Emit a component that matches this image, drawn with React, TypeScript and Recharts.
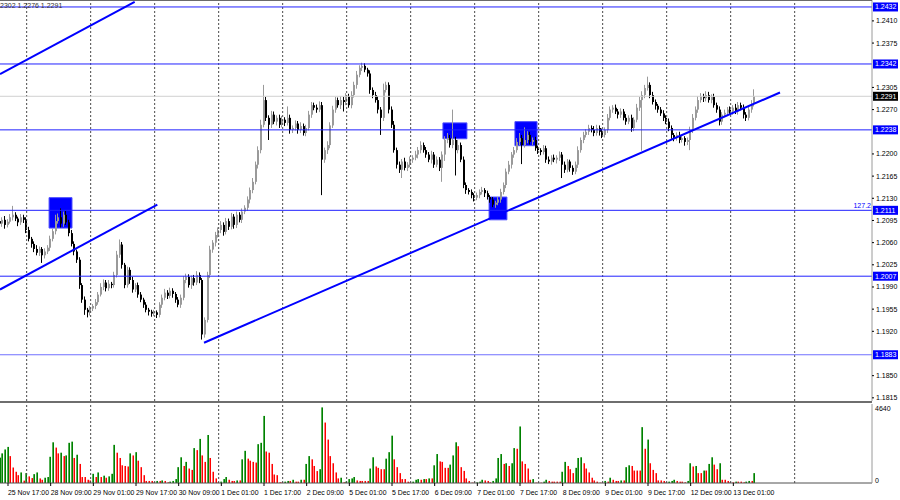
import { ComposedChart, Bar, XAxis, YAxis, ReferenceLine, ReferenceArea } from 'recharts'

// H1 closes, price * 10000
const closes = [
  12090, 12096, 12088, 12093, 12100, 12104, 12098, 12092, 12100, 12096,
  12080, 12066, 12058, 12050, 12044, 12050, 12040, 12046, 12052, 12066,
  12078, 12094, 12100, 12090, 12104, 12092, 12075, 12058, 12046, 12033,
  11993, 11970, 11954, 11950, 11956, 11960, 11966, 11978, 11990, 11997,
  11988, 11995, 11993, 12009, 12041, 12057, 12025, 11993, 12017, 12001,
  11986, 11993, 11978, 11970, 11962, 11954, 11951, 11948, 11950, 11946,
  11962, 11973, 11981, 11976, 11984, 11979, 11970, 11962, 11973, 12001,
  12006, 11993, 12004, 11997, 12009, 12001, 11915, 11938, 12009, 12049,
  12060, 12072, 12080, 12088, 12077, 12094, 12085, 12101, 12088, 12104,
  12096, 12109, 12115, 12128, 12143, 12156, 12183, 12206, 12246, 12285,
  12257, 12246, 12262, 12251, 12257, 12246, 12254, 12249, 12257, 12238,
  12241, 12248, 12238, 12244, 12233, 12241, 12262, 12277, 12273, 12270,
  12277, 12191, 12206, 12214, 12245, 12270, 12285, 12277, 12285, 12282,
  12291, 12277, 12293, 12309, 12325, 12336, 12339, 12333, 12327, 12301,
  12293, 12285, 12270, 12257, 12301, 12309, 12270, 12246, 12206, 12183,
  12175, 12188, 12178, 12183, 12191, 12194, 12199, 12206, 12214, 12206,
  12199, 12191, 12199, 12183, 12191, 12178, 12199, 12222, 12225, 12214,
  12222, 12206, 12214, 12191, 12151, 12143, 12140, 12135, 12131, 12135,
  12140, 12143, 12138, 12132, 12128, 12120, 12123, 12128, 12140, 12151,
  12172, 12183, 12199, 12206, 12219, 12225, 12214, 12222, 12230, 12219,
  12222, 12209, 12206, 12203, 12209, 12191, 12188, 12194, 12191, 12194,
  12199, 12183, 12175, 12188, 12178, 12172, 12183, 12206, 12222, 12230,
  12235, 12241, 12238, 12233, 12241, 12235, 12230, 12238, 12257, 12270,
  12273, 12267, 12262, 12267, 12257, 12251, 12257, 12241, 12254, 12273,
  12285, 12293, 12304, 12309, 12293, 12282, 12276, 12270, 12264, 12257,
  12251, 12241, 12230, 12225, 12230, 12222, 12225, 12219, 12222, 12238,
  12257, 12270, 12285, 12291, 12288, 12293, 12285, 12290, 12277, 12270,
  12251, 12262, 12265, 12270, 12267, 12273, 12267, 12277, 12273, 12262,
  12257, 12270, 12279, 12291
]
const firstOpen = 12094

// wick lengths in pips above / below the body
const wickUp = [
  5, 4, 6, 4, 5, 14, 4, 3, 5, 4,
  4, 5, 3, 4, 6, 4, 3, 5, 4, 5,
  4, 10, 6, 14, 5, 6, 4, 5, 4, 3,
  4, 3, 5, 3, 4, 3, 5, 4, 6, 5,
  4, 6, 3, 5, 6, 8, 4, 3, 5, 4,
  5, 3, 4, 4, 3, 4, 3, 3, 4, 3,
  4, 5, 6, 4, 5, 4, 3, 4, 5, 6,
  5, 4, 4, 5, 6, 4, 3, 4, 5, 6,
  4, 5, 4, 6, 4, 5, 4, 6, 4, 5,
  4, 5, 4, 5, 4, 6, 5, 6, 8, 24,
  5, 4, 6, 5, 4, 5, 6, 4, 18, 5,
  4, 5, 4, 6, 4, 5, 6, 5, 4, 5,
  6, 5, 4, 6, 5, 6, 5, 4, 6, 5,
  5, 4, 6, 5, 6, 4, 5, 4, 3, 5,
  4, 5, 6, 4, 10, 5, 4, 5, 6, 4,
  5, 4, 6, 4, 5, 4, 6, 5, 6, 4,
  5, 4, 6, 4, 5, 4, 5, 6, 8, 5,
  48, 5, 8, 4, 5, 4, 3, 4, 3, 4,
  4, 5, 3, 4, 3, 4, 3, 4, 5, 4,
  5, 6, 4, 5, 6, 8, 5, 20, 6, 5,
  4, 5, 4, 3, 5, 4, 5, 4, 5, 4,
  5, 4, 5, 4, 3, 4, 5, 6, 4, 5,
  4, 5, 4, 6, 5, 4, 5, 4, 6, 5,
  4, 5, 4, 5, 4, 6, 4, 5, 4, 6,
  5, 6, 5, 13, 4, 5, 4, 3, 4, 5,
  4, 5, 4, 3, 4, 5, 4, 3, 4, 5,
  6, 5, 6, 5, 4, 6, 5, 4, 5, 4,
  5, 4, 5, 4, 5, 4, 6, 5, 4, 5,
  4, 5, 6, 11
]
const wickDown = [
  4, 5, 6, 4, 3, 5, 4, 6, 4, 5,
  5, 4, 6, 5, 4, 5, 12, 5, 4, 5,
  4, 5, 4, 6, 5, 4, 5, 4, 6, 5,
  6, 5, 8, 8, 5, 4, 5, 4, 3, 5,
  5, 4, 5, 4, 4, 5, 6, 5, 4, 6,
  5, 4, 5, 4, 5, 4, 6, 5, 4, 5,
  4, 5, 4, 5, 4, 6, 5, 4, 5, 4,
  5, 4, 6, 5, 4, 5, 8, 5, 4, 5,
  5, 6, 4, 5, 6, 4, 5, 4, 6, 5,
  4, 5, 4, 5, 6, 5, 4, 6, 5, 4,
  5, 24, 5, 4, 6, 5, 4, 5, 4, 6,
  5, 4, 6, 5, 4, 5, 4, 5, 4, 5,
  4, 56, 5, 6, 5, 4, 5, 4, 6, 15,
  5, 4, 5, 4, 6, 4, 5, 4, 5, 6,
  5, 4, 6, 27, 5, 4, 6, 5, 4, 6,
  5, 13, 4, 5, 4, 5, 4, 6, 5, 4,
  5, 4, 6, 5, 4, 5, 22, 10, 5, 4,
  5, 40, 5, 4, 5, 6, 4, 5, 6, 4,
  5, 4, 6, 4, 5, 4, 5, 4, 5, 4,
  5, 4, 6, 5, 4, 5, 30, 4, 5, 4,
  5, 4, 6, 5, 4, 5, 4, 5, 4, 6,
  5, 21, 5, 4, 6, 5, 4, 5, 4, 5,
  4, 5, 4, 5, 4, 6, 5, 4, 5, 4,
  5, 4, 6, 5, 4, 5, 4, 6, 5, 4,
  5, 80, 5, 4, 5, 4, 6, 5, 4, 5,
  4, 5, 6, 5, 4, 5, 4, 6, 5, 16,
  5, 4, 5, 4, 6, 5, 4, 5, 4, 5,
  6, 5, 4, 5, 4, 5, 4, 5, 4, 6,
  5, 4, 5, 4
]
const volumes = [
  1490, 1740, 1970, 2120, 1580, 910, 660, 460, 620, 140,
  580, 390, 290, 520, 620, 270, 190, 310, 350, 1540,
  2390, 2080, 1740, 1780, 1580, 1620, 2360, 2430, 1470, 1660,
  1120, 350, 350, 190, 150, 540, 350, 620, 350, 430,
  310, 390, 540, 2240, 1780, 1470, 1040, 1000, 970, 1740,
  1620, 1810, 1310, 930, 460, 120, 120, 120, 40, 120,
  120, 150, 120, 40, 80, 120, 230, 930, 1510, 1000,
  1240, 850, 770, 2050, 1930, 2590, 1620, 1240, 2820, 1470,
  660, 270, 40, 80, 230, 350, 190, 120, 120, 150,
  150, 1390, 1890, 1430, 1310, 1240, 1200, 2280, 2360, 3940,
  1850, 1780, 1120, 500, 460, 40, 40, 80, 120, 120,
  190, 80, 80, 190, 190, 1120, 1580, 1390, 1000, 700,
  810, 4440, 3550, 2550, 1580, 1160, 620, 270, 310, 40,
  80, 230, 270, 350, 150, 120, 120, 120, 120, 850,
  1510, 970, 890, 810, 810, 1430, 1810, 2780, 1390, 930,
  580, 230, 230, 80, 40, 80, 190, 230, 190, 230,
  230, 270, 270, 1040, 1700, 1270, 1240, 890, 890, 1080,
  1620, 2390, 2160, 930, 710, 270, 120, 20, 20, 40,
  80, 190, 150, 120, 40, 120, 270, 1470, 1700, 1120,
  1160, 1000, 1160, 2050, 2010, 3320, 1270, 1120, 850, 190,
  230, 20, 20, 20, 80, 190, 120, 80, 80, 80,
  80, 660, 1240, 1000, 810, 580, 890, 1470, 1510, 1160,
  850, 620, 310, 150, 80, 20, 20, 120, 80, 310,
  190, 120, 120, 150, 150, 930, 1040, 1000, 730, 730,
  730, 3280, 2010, 2550, 1160, 770, 580, 150, 150, 120,
  40, 80, 120, 190, 120, 80, 80, 40, 120, 1160,
  970, 1000, 580, 580, 730, 730, 1120, 1510, 1080, 810,
  1160, 190, 190, 120, 40, 40, 80, 80, 80, 40,
  80, 120, 120, 580
]

const timeLabels = [
  '25 Nov 17:00', '28 Nov 09:00', '29 Nov 01:00', '29 Nov 17:00', '30 Nov 09:00',
  '1 Dec 01:00', '1 Dec 17:00', '2 Dec 09:00', '5 Dec 01:00', '5 Dec 17:00',
  '6 Dec 09:00', '7 Dec 01:00', '7 Dec 17:00', '8 Dec 09:00', '9 Dec 01:00',
  '9 Dec 17:00', '12 Dec 09:00', '13 Dec 01:00'
]
const labelBars = [3, 19, 35, 51, 67, 83, 99, 115, 131, 147, 163, 179, 195, 211, 227, 243, 259, 275]
const gridBars = [10, 34, 58, 82, 106, 130, 154, 178, 202, 226, 250, 274, 298]

// scale labels left visible (those under the level boxes are covered in the original)
const priceTicks = [
  11815, 11850, 11920, 11955, 11990, 12025, 12060, 12095,
  12130, 12165, 12200, 12270, 12305, 12375, 12410
]
const levels = [12432, 12342, 12238, 12111, 12007, 11883]
const lastPrice = 12291
const volumeTicks = [0, 4640]

// trend lines as [bar, price] pairs
const trendLines = [
  [[0, 12326], [50.5, 12440]],
  [[0, 11986], [59, 12120]],
  [[76.5, 11902], [292.5, 12297]]
]
// rectangles: [bar from, bar to, price low, price high]
const boxes = [
  [18.4, 27, 12083, 12131],
  [166.1, 175.1, 12224, 12249],
  [193.1, 201.4, 12213, 12251],
  [183.4, 190.1, 12096, 12132]
]

const WIDTH = 900
const AXIS_W = 28
const PLOT_RIGHT = WIDTH - AXIS_W
const MAIN_H = 401
const VOL_H = 97
const VOL_X_H = 17
const FONT = "'Liberation Sans', Arial, sans-serif"
const BLUE = '#0000ff'

const candles = closes.map((c, i) => {
  const o = i === 0 ? firstOpen : closes[i - 1]
  const h = Math.max(o, c) + wickUp[i]
  const l = Math.min(o, c) - wickDown[i]
  return {
    i,
    o,
    c,
    h,
    l,
    range: [l, h],
    vol: volumes[i],
    volUp: i === 0 || volumes[i] > volumes[i - 1]
  }
})

const fmt = (v: number) => (v / 10000).toFixed(4)

function Candle(props: any) {
  const { x, y, width, height, payload } = props
  const top = Math.min(y, y + height)
  const h = Math.abs(height)
  const span = payload.h - payload.l
  const k = span > 0 ? h / span : 0
  const cx = Math.round(x + width / 2)
  const bodyTop = top + (payload.h - Math.max(payload.o, payload.c)) * k
  const bodyH = Math.max(1, Math.abs(payload.o - payload.c) * k)
  const bull = payload.c > payload.o
  const color = bull ? '#9a9a9a' : '#000000'
  return (
    <g>
      <rect x={cx - 1} y={top} width={1} height={h} fill={color} />
      <rect x={cx - 1} y={bodyTop} width={2} height={bodyH} fill={color} />
    </g>
  )
}

function VolumeBar(props: any) {
  const { x, y, width, height, payload } = props
  if (!height || height <= 0) return null
  const left = Math.round(x + width / 2) - 1
  const up = payload.volUp
  return (
    <g>
      <rect x={left} y={y} width={1} height={height} fill={up ? '#55b055' : '#ff7d7d'} />
      <rect x={left + 1} y={y} width={1} height={height} fill={up ? '#008000' : '#ff0000'} />
    </g>
  )
}

function PriceTick(props: any) {
  const { y, payload } = props
  const v = payload.value
  const boxed = levels.includes(v) || v === lastPrice
  if (boxed) {
    return (
      <g>
        <rect x={PLOT_RIGHT + 1} y={y - 4.5} width={25} height={9} fill={v === lastPrice ? '#000' : BLUE} />
        <text x={PLOT_RIGHT + 3} y={y + 2.5} fontSize={7} fontFamily={FONT} fill="#fff">
          {fmt(v)}
        </text>
      </g>
    )
  }
  return (
    <g>
      <line x1={PLOT_RIGHT} x2={PLOT_RIGHT + 2} y1={y} y2={y} stroke="#000" />
      <text x={PLOT_RIGHT + 4} y={y + 2.5} fontSize={7} fontFamily={FONT} fill="#000">
        {fmt(v)}
      </text>
    </g>
  )
}

function VolumeTick(props: any) {
  const { y, payload } = props
  const v = payload.value
  return (
    <text x={PLOT_RIGHT + 3} y={v === 0 ? y : y + 7} fontSize={7} fontFamily={FONT} fill="#000">
      {v}
    </text>
  )
}

function TimeTick(props: any) {
  const { x, payload } = props
  const idx = labelBars.indexOf(payload.value)
  const base = VOL_H - VOL_X_H
  return (
    <g>
      <line x1={x} x2={x} y1={base} y2={base + 3} stroke="#000" />
      <text x={x} y={base + 12} fontSize={6.9} fontFamily={FONT} fill="#000">
        {timeLabels[idx]}
      </text>
    </g>
  )
}

function FiboLabel(props: any) {
  const { viewBox } = props
  return (
    <text
      x={viewBox.x + viewBox.width - 1}
      y={viewBox.y - 2}
      textAnchor="end"
      fontSize={7}
      fontFamily={FONT}
      fill={BLUE}
    >
      127.2
    </text>
  )
}

export default function App() {
  return (
    <div style={{ position: 'relative', width: WIDTH, height: 500, background: '#fff', overflow: 'hidden' }}>
      <style>{'body{margin:0}'}</style>

      <div style={{ position: 'absolute', left: 0, top: 0 }}>
        <ComposedChart width={WIDTH} height={MAIN_H} data={candles} margin={{ top: 0, right: 0, bottom: 0, left: 0 }}>
          <XAxis type="number" dataKey="i" domain={[0, 327]} allowDataOverflow hide />
          <YAxis
            orientation="right"
            width={AXIS_W}
            domain={[11810, 12443]}
            allowDataOverflow
            ticks={[...priceTicks, ...levels, lastPrice]}
            interval={0}
            tick={<PriceTick />}
            tickLine={false}
            axisLine={{ stroke: '#9a9a9a' }}
          />
          {gridBars.map((b) => (
            <ReferenceLine key={`g${b}`} x={b} stroke="#4a4a4a" strokeDasharray="2 2" />
          ))}
          {boxes.map((r, k) => (
            <ReferenceArea
              key={`b${k}`}
              x1={r[0]}
              x2={r[1]}
              y1={r[2]}
              y2={r[3]}
              fill={BLUE}
              fillOpacity={1}
              stroke="#5050ff"
            />
          ))}
          <ReferenceLine y={lastPrice} stroke="#d0d0d0" />
          <Bar dataKey="range" shape={<Candle />} barSize={2} isAnimationActive={false} />
          {levels.map((lv) => (
            <ReferenceLine
              key={`l${lv}`}
              y={lv}
              stroke={lv === 11883 ? '#7070ff' : '#2020ff'}
              label={lv === 12111 ? <FiboLabel /> : undefined}
            />
          ))}
          {trendLines.map((s, k) => (
            <ReferenceLine
              key={`t${k}`}
              segment={[
                { x: s[0][0], y: s[0][1] },
                { x: s[1][0], y: s[1][1] }
              ]}
              stroke={BLUE}
              strokeWidth={2}
              ifOverflow="hidden"
            />
          ))}
        </ComposedChart>
      </div>

      <div style={{ position: 'absolute', left: 0, top: 0, width: PLOT_RIGHT, height: 1, background: '#6a6a6a' }} />
      <div style={{ position: 'absolute', left: 0, top: MAIN_H, width: PLOT_RIGHT, height: 2, background: '#6e6e6e' }} />

      <div style={{ position: 'absolute', left: 0, top: MAIN_H + 2 }}>
        <ComposedChart width={WIDTH} height={VOL_H} data={candles} margin={{ top: 1, right: 0, bottom: 0, left: 0 }}>
          <XAxis
            type="number"
            dataKey="i"
            domain={[0, 327]}
            allowDataOverflow
            ticks={labelBars}
            interval={0}
            height={VOL_X_H}
            tick={<TimeTick />}
            tickLine={false}
            axisLine={{ stroke: '#505050' }}
          />
          <YAxis
            orientation="right"
            width={AXIS_W}
            domain={[0, 4640]}
            allowDataOverflow
            ticks={volumeTicks}
            interval={0}
            tick={<VolumeTick />}
            tickLine={false}
            axisLine={{ stroke: '#9a9a9a' }}
          />
          {gridBars.map((b) => (
            <ReferenceLine key={`vg${b}`} x={b} stroke="#4a4a4a" strokeDasharray="2 2" />
          ))}
          <Bar dataKey="vol" shape={<VolumeBar />} barSize={2} isAnimationActive={false} />
        </ComposedChart>
      </div>

      <div
        style={{
          position: 'absolute',
          left: 0,
          top: 2,
          fontSize: 7,
          fontFamily: FONT,
          color: '#333',
          whiteSpace: 'nowrap'
        }}
      >
        2302 1.2276 1.2291
      </div>
    </div>
  )
}
